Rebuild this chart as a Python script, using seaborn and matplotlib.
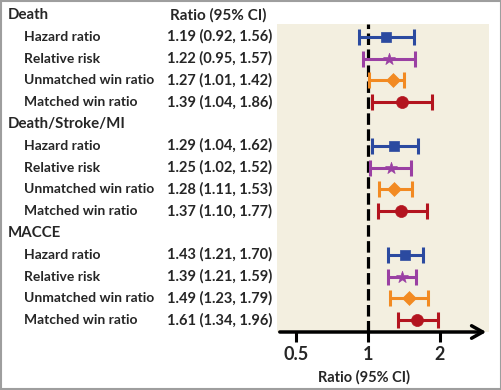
import numpy as np
import pandas as pd
import seaborn as sns
import matplotlib
import matplotlib.pyplot as plt
from matplotlib.transforms import blended_transform_factory
from matplotlib.patches import Rectangle

matplotlib.use("Agg")

# data
groups = ["Death", "Death/Stroke/MI", "MACCE"]
methods = ["Hazard ratio", "Relative risk", "Unmatched win ratio", "Matched win ratio"]
est = [1.19, 1.22, 1.27, 1.39,
       1.29, 1.25, 1.28, 1.37,
       1.43, 1.39, 1.49, 1.61]
lo = [0.92, 0.95, 1.01, 1.04,
      1.04, 1.02, 1.11, 1.10,
      1.21, 1.21, 1.23, 1.34]
hi = [1.56, 1.57, 1.42, 1.86,
      1.62, 1.52, 1.53, 1.77,
      1.70, 1.59, 1.79, 1.96]
xticks = [0.5, 1, 2]
xtick_labels = ["0.5", "1", "2"]

colors = {"Hazard ratio": "#2b4aa0", "Relative risk": "#9a40a3",
          "Unmatched win ratio": "#f28a22", "Matched win ratio": "#b3141f"}
markers = {"Hazard ratio": "s", "Relative risk": "*",
           "Unmatched win ratio": "D", "Matched win ratio": "o"}
msizes = {"Hazard ratio": 55, "Relative risk": 80,
          "Unmatched win ratio": 50, "Matched win ratio": 75}

# row positions: header row then 4 method rows per group
rows = []
header_rows = []
r = 0
for g in groups:
    header_rows.append(r)
    r += 1
    for m in methods:
        rows.append((g, m, r))
        r += 1

df = pd.DataFrame({
    "group": [x[0] for x in rows],
    "method": [x[1] for x in rows],
    "row": [x[2] for x in rows],
    "est": est, "lo": lo, "hi": hi,
})

sns.set_style("white")
plt.rcParams["font.family"] = ["Lato", "DejaVu Sans"]
plt.rcParams["font.weight"] = "bold"

fig = plt.figure(figsize=(5.02, 3.90), dpi=100)
W, H = 502, 390
ax = fig.add_axes([277 / W, 1 - 332 / H, (489 - 277) / W, (332 - 24) / H])
ax.set_facecolor("#f3efe0")

# y scale: row i sits at pixel 15 + 21.8 * i
ax.set_ylim((332 - 15) / 21.8, (24 - 15) / 21.8)
ax.set_xscale("log", base=2)
ax.set_xlim(2 ** ((277 - 368) / 72), 2 ** ((489 - 368) / 72))

ax.axvline(1, color="black", lw=2.3, ls=(0, (3.6, 1.4)), zorder=1)

for m in methods:
    d = df[df["method"] == m]
    ax.errorbar(d["est"], d["row"],
                xerr=[d["est"] - d["lo"], d["hi"] - d["est"]],
                fmt="none", ecolor=colors[m], elinewidth=2.2,
                capsize=5.5, capthick=2.2, zorder=2)
    sns.scatterplot(data=d, x="est", y="row", marker=markers[m],
                    color=colors[m], s=msizes[m], edgecolor=colors[m],
                    linewidth=0.5, ax=ax, zorder=3, legend=False)

for s in ["top", "right", "left", "bottom"]:
    ax.spines[s].set_visible(False)
ax.annotate("", xy=(1.0, 0), xytext=(0, 0), xycoords="axes fraction",
            arrowprops=dict(arrowstyle="->,head_length=0.8,head_width=0.45",
                            color="black", lw=2.5), annotation_clip=False)
ax.set_yticks([])
ax.set_xticks(xticks)
ax.set_xticklabels(xtick_labels, fontsize=13, fontweight="bold")
ax.xaxis.set_minor_locator(matplotlib.ticker.NullLocator())
ax.tick_params(axis="x", bottom=True, length=7, width=2.2, direction="out",
               pad=3, color="black")
ax.set_xlabel("Ratio (95% CI)", fontsize=10.5, fontweight="bold")
ax.xaxis.label.set_va("center")
ax.xaxis.set_label_coords((364 - 277) / (489 - 277), -(377 - 332) / (332 - 24))
ax.set_ylabel("")

# left-hand table
tr = blended_transform_factory(fig.transFigure, ax.transData)
for g, hr in zip(groups, header_rows):
    ax.text(8 / W, hr, g, transform=tr, fontsize=10.8, fontweight="bold",
            va="center", ha="left", clip_on=False)
ax.text(170 / W, header_rows[0], "Ratio (95% CI)", transform=tr, fontsize=11,
        fontweight="bold", va="center", ha="left", clip_on=False)
for _, row in df.iterrows():
    ax.text(24 / W, row["row"], row["method"], transform=tr, fontsize=10,
            fontweight="bold", va="center", ha="left", clip_on=False)
    ax.text(167 / W, row["row"],
            f"{row['est']:.2f} ({row['lo']:.2f}, {row['hi']:.2f})",
            transform=tr, fontsize=10.5, fontweight="bold", va="center",
            ha="left", clip_on=False)

# grey frame round the whole picture
fig.patches.append(Rectangle((0.002, 0.002), 0.996, 0.996,
                             transform=fig.transFigure, fill=False,
                             edgecolor="#9e9e9e", lw=1.5))

plt.savefig("out.png", dpi=100)
